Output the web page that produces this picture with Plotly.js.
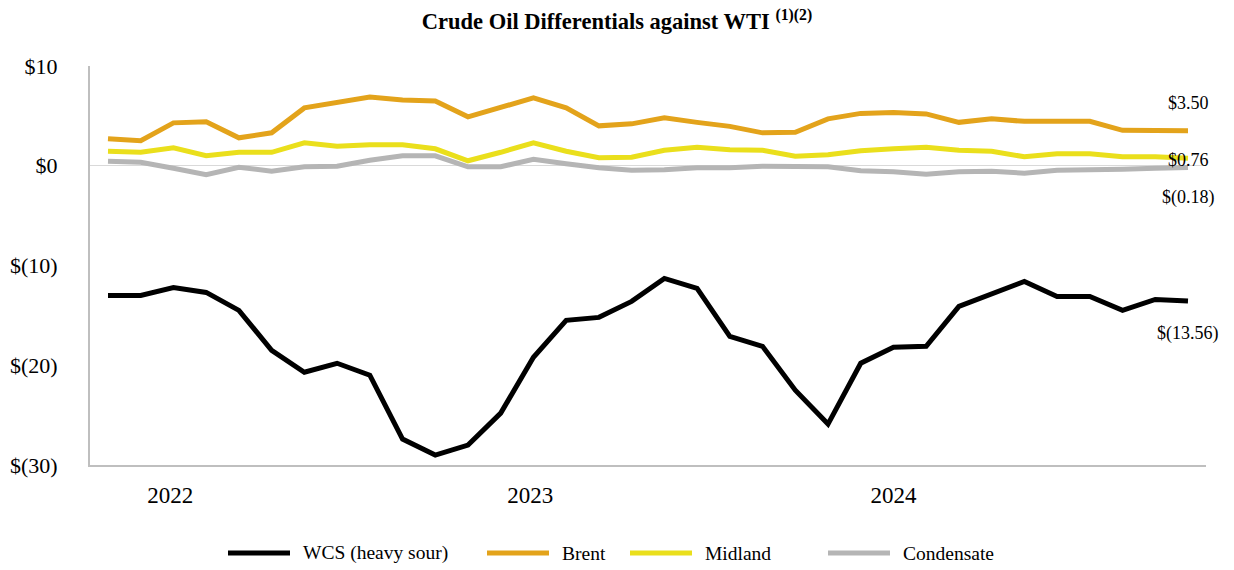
<!DOCTYPE html>
<html>
<head>
<meta charset="utf-8">
<script src="https://cdn.plot.ly/plotly-3.0.1.min.js"></script>
<style>html,body{margin:0;padding:0;background:#fff;}#chart{width:1234px;height:570px;}</style>
</head>
<body>
<div id="chart"></div>
<script>
// Monthly, Jan 2022 – Oct 2024
const months = ['2022-01','2022-02','2022-03','2022-04','2022-05','2022-06','2022-07','2022-08','2022-09','2022-10','2022-11','2022-12',
  '2023-01','2023-02','2023-03','2023-04','2023-05','2023-06','2023-07','2023-08','2023-09','2023-10','2023-11','2023-12',
  '2024-01','2024-02','2024-03','2024-04','2024-05','2024-06','2024-07','2024-08','2024-09','2024-10'];

const wcs = [-13.0,-13.0,-12.2,-12.7,-14.5,-18.5,-20.7,-19.8,-21.0,-27.4,-29.0,-28.0,
  -24.8,-19.2,-15.5,-15.2,-13.6,-11.3,-12.3,-17.1,-18.1,-22.5,-25.9,-19.8,
  -18.2,-18.1,-14.1,-12.8,-11.6,-13.1,-13.1,-14.5,-13.4,-13.56];
const brent = [2.7,2.5,4.3,4.4,2.8,3.3,5.8,6.4,6.9,6.6,6.5,4.9,
  5.9,6.8,5.8,4.0,4.2,4.8,4.35,3.95,3.3,3.35,4.7,5.25,
  5.35,5.2,4.35,4.7,4.45,4.45,4.45,3.55,3.55,3.50];
const midland = [1.45,1.35,1.8,1.0,1.35,1.35,2.3,1.95,2.1,2.1,1.7,0.5,
  1.35,2.3,1.45,0.8,0.85,1.55,1.85,1.6,1.55,0.95,1.1,1.5,
  1.7,1.85,1.55,1.45,0.9,1.2,1.2,0.9,0.9,0.76];
const condensate = [0.45,0.35,-0.25,-0.9,-0.15,-0.55,-0.1,-0.05,0.55,1.0,1.0,-0.1,
  -0.1,0.65,0.2,-0.2,-0.45,-0.4,-0.2,-0.2,-0.05,-0.1,-0.1,-0.5,
  -0.6,-0.85,-0.6,-0.55,-0.75,-0.45,-0.45,-0.35,-0.25,-0.18];

const seriesNames = ['WCS (heavy sour)','Brent','Midland','Condensate'];
const seriesColors = ['#000000','#E3A31B','#EADF1C','#B5B5B5'];
const yearLabels = ['2022','2023','2024'];
const yearTickPos = [1.9, 12.9, 24.0];
const yTickVals = [10,0,-10,-20,-30];
const yTickText = ['$10','$0','$(10)','$(20)','$(30)'];

const xs = months.map((m,i)=>i);
const allSeries = [wcs, brent, midland, condensate];

const traces = allSeries.map((s,k)=>({
  x: xs, y: s, type:'scatter', mode:'lines', name: seriesNames[k],
  line:{color: seriesColors[k], width:5}, showlegend:false
}));

function fmt(v){
  const a = Math.abs(v).toFixed(2);
  return v < 0 ? '$(' + a + ')' : '$' + a;
}
const labelShift = [-32, 28, -2, -30];
const annotations = allSeries.map((s,k)=>({
  x: xs[xs.length-1], y: s[s.length-1], xref:'x', yref:'y',
  text: fmt(s[s.length-1]), showarrow:false, yshift: labelShift[k], xshift: 0,
  font:{family:'Liberation Serif', size:18, color:'#000'}
}));

// Custom legend (pixel layout of the page converted to paper coords)
const M = {l:90, r:28, t:66, b:105, W:1234, H:570};
const pw = M.W - M.l - M.r, ph = M.H - M.t - M.b;
const px = p => (p - M.l) / pw;
const py = p => (M.H - M.b - p) / ph;
const legLineStart = [228, 487, 630, 828];
const legLineLen = 62;
const legY = 553;
const shapes = [];
seriesNames.forEach((n,k)=>{
  shapes.push({type:'line', xref:'paper', yref:'paper',
    x0: px(legLineStart[k]), x1: px(legLineStart[k]+legLineLen), y0: py(legY), y1: py(legY),
    line:{color: seriesColors[k], width:5}});
  annotations.push({xref:'paper', yref:'paper', x: px(legLineStart[k]+legLineLen+11), y: py(legY),
    xanchor:'left', yanchor:'middle', showarrow:false, text: n,
    font:{family:'Liberation Serif', size:19.5, color:'#000'}});
});

const layout = {
  width:1234, height:570,
  paper_bgcolor:'#fff', plot_bgcolor:'#fff',
  margin:{l:M.l, r:M.r, t:M.t, b:M.b},
  font:{family:'Liberation Serif', color:'#000'},
  title:{text:'<b>Crude Oil Differentials against WTI <sup>(1)(2)</sup></b>', x:0.5, xanchor:'center', y:0.963, yanchor:'middle',
    font:{family:'Liberation Serif', size:22.5, color:'#000'}},
  xaxis:{range:[-0.55,33.55], tickvals: yearTickPos, ticktext: yearLabels, showgrid:false, zeroline:false,
    showline:true, linecolor:'#BFBFBF', linewidth:2, ticks:'', ticklabelstandoff:8,
    tickfont:{family:'Liberation Serif', size:23, color:'#000'}},
  yaxis:{range:[-30,10], tickvals: yTickVals, ticktext: yTickText, showgrid:false,
    zeroline:true, zerolinecolor:'#D9D9D9', zerolinewidth:1,
    showline:true, linecolor:'#BFBFBF', linewidth:2, ticks:'', ticklabelstandoff:26,
    tickfont:{family:'Liberation Serif', size:22, color:'#000'}},
  showlegend:false,
  shapes: shapes,
  annotations: annotations
};

Plotly.newPlot('chart', traces, layout, {displayModeBar:false, staticPlot:true});
</script>
</body>
</html>
